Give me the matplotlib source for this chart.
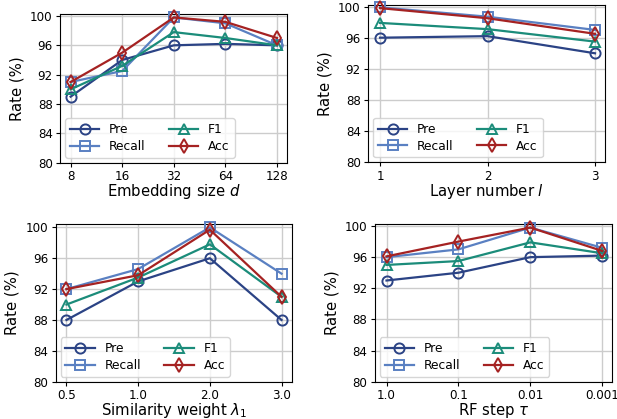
import matplotlib.pyplot as plt

# data
emb_labels = ['8', '16', '32', '64', '128']
emb_pre = [89.0, 94.0, 96.0, 96.2, 96.0]
emb_recall = [91.0, 92.5, 99.8, 99.0, 96.0]
emb_f1 = [90.0, 93.2, 97.8, 97.0, 96.0]
emb_acc = [91.0, 95.0, 99.8, 99.2, 97.0]

layer_x = [1, 2, 3]
layer_pre = [96.0, 96.2, 94.0]
layer_recall = [99.9, 98.7, 97.0]
layer_f1 = [97.9, 97.1, 95.5]
layer_acc = [99.8, 98.5, 96.5]

sim_labels = ['0.5', '1.0', '2.0', '3.0']
sim_pre = [88.0, 93.0, 96.0, 88.0]
sim_recall = [92.0, 94.6, 100.0, 94.0]
sim_f1 = [90.0, 93.5, 97.8, 91.0]
sim_acc = [92.0, 93.8, 99.7, 91.0]

rf_labels = ['1.0', '0.1', '0.01', '0.001']
rf_pre = [93.0, 94.0, 96.0, 96.2]
rf_recall = [96.0, 97.0, 99.8, 97.2]
rf_f1 = [95.0, 95.5, 97.9, 96.5]
rf_acc = [96.1, 98.0, 99.8, 96.8]

names = ['Pre', 'Recall', 'F1', 'Acc']
colors = ['#2b4385', '#5a80c2', '#1b8c7a', '#a52222']
markers = ['o', 's', '^', 'd']

fig = plt.figure(figsize=(6.17, 4.19), dpi=100)
W, H = 617, 419


def make_ax(x0, x1, top, bot):
    return fig.add_axes([x0 / W, 1 - bot / H, (x1 - x0) / W, (bot - top) / H])


def draw(ax, x, series, xlabel, xlim, ytop, xticklabels=None):
    for ys, name, c, m in zip(series, names, colors, markers):
        ax.plot(x, ys, color=c, marker=m, markersize=7.3, markerfacecolor='none',
                markeredgewidth=1.4, linewidth=1.6, label=name, clip_on=False, zorder=3)
    ax.set_xticks(x)
    if xticklabels is not None:
        ax.set_xticklabels(xticklabels)
    ax.set_xlim(*xlim)
    ax.set_ylim(80, ytop)
    ax.set_yticks([80, 84, 88, 92, 96, 100])
    ax.grid(True, color='#cccccc', linewidth=1.0)
    ax.set_axisbelow(True)
    ax.tick_params(labelsize=8.6, length=3, pad=2.5)
    ax.set_xlabel(xlabel, fontsize=10.7, labelpad=-1)
    ax.set_ylabel('Rate (%)', fontsize=10.7, labelpad=4)
    ax.legend(loc='lower left', ncol=2, fontsize=8.8, handlelength=2.4,
              columnspacing=1.9, borderaxespad=0.4, labelspacing=0.3)


ax1 = make_ax(60.3, 287.3, 14, 162.7)
draw(ax1, list(range(len(emb_labels))), [emb_pre, emb_recall, emb_f1, emb_acc],
     'Embedding size $d$', (-0.2, 4.2), 100.27, emb_labels)

ax2 = make_ax(368.3, 605, 5, 162.3)
draw(ax2, layer_x, [layer_pre, layer_recall, layer_f1, layer_acc],
     'Layer number $l$', (0.891, 3.093), 100.2)

ax3 = make_ax(55.7, 292.3, 224.3, 381.7)
draw(ax3, list(range(len(sim_labels))), [sim_pre, sim_recall, sim_f1, sim_acc],
     'Similarity weight $\\lambda_1$', (-0.15, 3.15), 100.4, sim_labels)

ax4 = make_ax(375, 612.3, 224, 381.7)
draw(ax4, list(range(len(rf_labels))), [rf_pre, rf_recall, rf_f1, rf_acc],
     'RF step $\\tau$', (-0.16, 3.14), 100.26, rf_labels)

fig.savefig('out.png', dpi=100)
